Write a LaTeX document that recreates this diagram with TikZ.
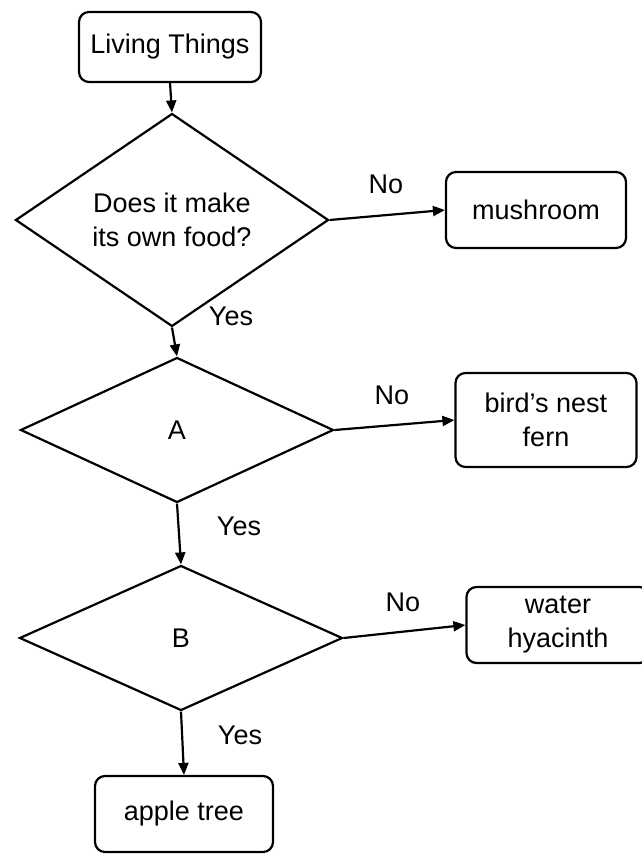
\documentclass[tikz,border=0pt]{standalone}
\usepackage{fontspec}
\setmainfont{Liberation Sans}
\usetikzlibrary{shapes.geometric,arrows.meta}
\begin{document}
\begin{tikzpicture}[x=1pt,y=-1pt,
  every node/.style={font=\fontsize{27}{34}\selectfont},
  rbox/.style={draw,line width=2.2pt,rounded corners=10pt,align=center,inner sep=0pt},
  decision/.style={draw,diamond,line width=2.2pt,inner sep=0pt,align=center},
  conn/.style={line width=2.2pt,-{Triangle[length=12pt,width=10pt]}},
  lbl/.style={inner sep=0pt}]
\useasboundingbox (0,0) rectangle (641,854);
\fill[white] (0,0) rectangle (641,854);
% boxes
\node[rbox,minimum width=182pt,minimum height=70pt] (lt) at (170,47) {Living Things};
\node[rbox,minimum width=180pt,minimum height=76pt] (mush) at (536,210) {mushroom};
\node[rbox,minimum width=181pt,minimum height=94pt] (fern) at (546,420) {bird's nest\\fern};
\node[rbox,minimum width=183pt,minimum height=76pt] (water) at (558,625) {water\\hyacinth};
\node[rbox,minimum width=178pt,minimum height=76pt] (apple) at (184,814) {apple tree};
% decisions
\node[decision,minimum width=313pt,minimum height=147pt] (d1) at (172,220) {Does it make\\its own food?};
\node[decision,minimum width=313pt,minimum height=145pt] (dA) at (177,430) {A};
\node[decision,minimum width=323pt,minimum height=145pt] (dB) at (181,638) {B};
% connectors
\draw[conn] (lt.south) -- (d1.north);
\draw[conn] (d1.south) -- (dA.north);
\draw[conn] (dA.south) -- (dB.north);
\draw[conn] (dB.south) -- (apple.north);
\draw[conn] (d1.east) -- (mush.west);
\draw[conn] (dA.east) -- (fern.west);
\draw[conn] (dB.east) -- (water.west);
% labels
\node[lbl] (no1) at (386,184) {No};
\node[lbl] (no2) at (392,395) {No};
\node[lbl] (no3) at (403,602) {No};
\node[lbl] (yes1) at (231,316) {Yes};
\node[lbl] (yes2) at (239,526) {Yes};
\node[lbl] (yes3) at (240,735) {Yes};
\end{tikzpicture}
\end{document}
